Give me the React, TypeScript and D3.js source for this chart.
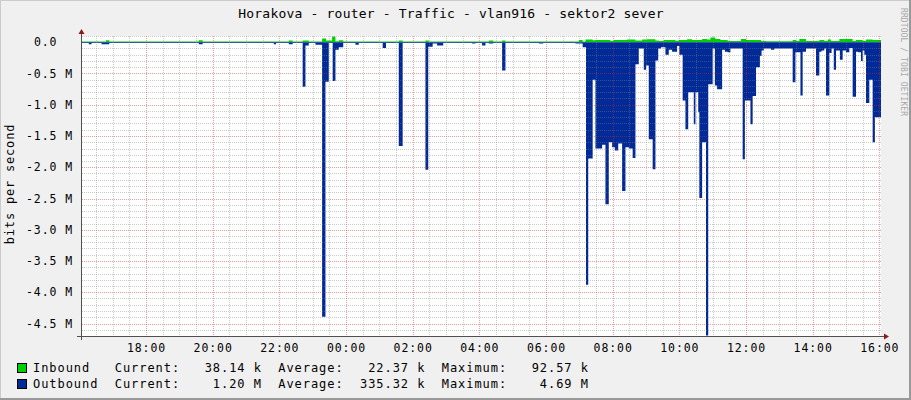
import React, { useEffect } from "react";
import * as d3 from "d3";

const TITLE = "Horakova - router - Traffic - vlan916 - sektor2 sever";
const Y_TITLE = "bits per second";
const WATERMARK = "RRDTOOL / TOBI OETIKER";

// time domain: one day starting at START_CLOCK
const START_CLOCK = "16:03";
const SPAN_MINUTES = 1440;

const xTickLabels = ["18:00", "20:00", "22:00", "00:00", "02:00", "04:00", "06:00", "08:00", "10:00", "12:00", "14:00", "16:00"];
const yTickValues = [0, -0.5, -1.0, -1.5, -2.0, -2.5, -3.0, -3.5, -4.0, -4.5];
const yTickLabels = ["0.0  ", "-0.5 M", "-1.0 M", "-1.5 M", "-2.0 M", "-2.5 M", "-3.0 M", "-3.5 M", "-4.0 M", "-4.5 M"];
const Y_MIN = -4.7;
const Y_MAX = 0.1;

// Inbound (kbit/s), step values starting at given clock time
const inboundTimes = [
  "16:03", "16:48", "16:54", "19:35", "19:42", "22:17", "22:24", "22:42", "22:53", "23:17",
  "23:24", "23:35", "23:41", "23:47", "23:55", "01:35", "01:42", "02:23", "02:29", "04:17",
  "04:25", "04:41", "04:47", "06:59", "07:06", "07:11", "07:24", "07:29", "07:56", "08:02",
  "08:26", "08:41", "08:53", "09:02", "09:17", "09:23", "09:32", "09:53", "09:59", "10:14",
  "10:23", "10:41", "10:50", "10:56", "11:05", "11:14", "11:27", "11:51", "12:00", "12:27",
  "12:36", "13:24", "13:30", "13:36", "13:48", "14:12", "14:21", "14:27", "14:33", "14:48",
  "15:12", "15:18", "15:30", "15:36", "15:48",
];
const inboundKbps = [
  14, 32, 14, 32, 14, 30, 14, 30, 14, 60,
  30, 92.57, 15, 32, 14, 30, 14, 30, 14, 30,
  14, 30, 14, 37, 14, 43, 32, 35, 22, 35,
  43, 28, 43, 48, 30, 22, 35, 25, 37, 48,
  37, 53, 43, 75, 53, 37, 22, 53, 37, 22,
  15, 37, 20, 53, 20, 37, 20, 43, 20, 53,
  20, 37, 20, 43, 38,
];

// Outbound (Mbit/s, drawn below zero)
const outboundTimes = [
  "16:03", "16:17", "16:22", "16:40", "16:54", "19:35", "19:42", "21:50", "21:54", "22:17",
  "22:24", "22:42", "22:47", "22:53", "23:05", "23:17", "23:23", "23:29", "23:36", "23:41",
  "23:47", "23:55", "00:17", "00:23", "01:06", "01:12", "01:35", "01:42", "02:23", "02:28",
  "02:36", "02:44", "02:55", "03:47", "03:53", "04:05", "04:11", "04:17", "04:25", "04:41",
  "04:47", "05:47", "05:55", "06:53", "07:06", "07:12", "07:16", "07:24", "07:29", "07:41",
  "07:47", "07:53", "07:59", "08:04", "08:10", "08:17", "08:23", "08:29", "08:36", "08:41",
  "08:47", "08:56", "09:00", "09:05", "09:12", "09:17", "09:22", "09:27", "09:35", "09:41",
  "09:47", "09:56", "10:00", "10:06", "10:11", "10:16", "10:26", "10:29", "10:34", "10:36",
  "10:41", "10:48", "10:52", "11:00", "11:04", "11:08", "11:17", "11:22", "11:27", "11:32",
  "11:54", "11:58", "12:08", "12:12", "12:18", "12:25", "12:28", "12:32", "12:45", "12:51",
  "13:24", "13:29", "13:38", "13:42", "13:48", "14:06", "14:12", "14:16", "14:21", "14:24",
  "14:30", "14:34", "14:38", "14:42", "14:49", "14:54", "15:00", "15:06", "15:12", "15:18",
  "15:22", "15:27", "15:30", "15:33", "15:36", "15:42", "15:48", "15:52",
];
const outboundMbps = [
  0.012, 0.03, 0.012, 0.03, 0.012, 0.03, 0.012, 0.03, 0.012, 0.03,
  0.012, 0.71, 0.05, 0.012, 0.04, 4.39, 0.63, 0.012, 0.62, 0.12,
  0.08, 0.012, 0.04, 0.012, 0.09, 0.012, 1.66, 0.012, 2.04, 0.07,
  0.02, 0.05, 0.012, 0.02, 0.012, 0.05, 0.012, 0.02, 0.012, 0.45,
  0.012, 0.02, 0.012, 0.02, 0.08, 3.88, 1.86, 0.6, 1.7, 1.64,
  2.59, 1.6, 1.68, 1.73, 1.62, 2.38, 1.68, 1.7, 1.85, 0.35,
  0.1, 0.44, 0.37, 1.55, 2.03, 0.29, 0.1, 0.08, 0.2, 0.12,
  0.15, 0.06, 0.2, 0.93, 1.39, 0.8, 1.31, 0.8, 1.12, 2.49,
  1.6, 4.69, 0.67, 0.1, 0.69, 0.75, 0.12, 0.15, 0.16, 0.1,
  1.87, 0.93, 1.31, 0.86, 0.4, 0.22, 0.13, 0.1, 0.12, 0.1,
  0.64, 0.16, 0.85, 0.15, 0.1, 0.53, 0.15, 0.13, 0.1, 0.85,
  0.17, 0.1, 0.44, 0.13, 0.28, 0.13, 0.16, 0.09, 0.87, 0.15,
  0.16, 0.3, 0.13, 0.2, 0.97, 0.6, 1.6, 1.2,
];

const legendNames = ["Inbound", "Outbound"];
const legendCurrent = ["38.14 k", "1.20 M"];
const legendAverage = ["22.37 k", "335.32 k"];
const legendMaximum = ["92.57 k", "4.69 M"];
const seriesColors = ["#00CF00", "#002A97"];

const FONT = "'DejaVu Sans Mono', monospace";

function clockToMin0(s: string): number {
  const [h, m] = s.split(":").map(Number);
  return h * 60 + m - 16 * 60;
}
function clockToMin(s: string): number {
  let v = clockToMin0(s);
  if (v < clockToMin0(START_CLOCK)) v += 1440;
  return v;
}

export default function App() {
  useEffect(() => {
    document.body.style.margin = "0";
  }, []);

  const W = 911;
  const H = 400;
  const left = 81;
  const right = 881;
  const top = 36;
  const bottom = 336;

  const t0 = clockToMin0(START_CLOCK);
  const t1 = t0 + SPAN_MINUTES;
  const x = d3.scaleLinear().domain([t0, t1]).range([left, right]);
  const y = d3.scaleLinear().domain([Y_MIN, Y_MAX]).range([bottom, top]);

  const inData = inboundTimes.map((t, i) => ({ t: clockToMin(t), v: inboundKbps[i] / 1000 }));
  inData.push({ t: t1, v: inData[inData.length - 1].v });
  const outData = outboundTimes.map((t, i) => ({ t: clockToMin(t), v: -outboundMbps[i] }));
  outData.push({ t: t1, v: outData[outData.length - 1].v });

  const area = d3
    .area<{ t: number; v: number }>()
    .x((d) => x(d.t))
    .y0(y(0))
    .y1((d) => y(d.v))
    .curve(d3.curveStepAfter);

  // vertical grid every 30 min, major every 2 h (even hours)
  const vGrid: { m: number; major: boolean }[] = [];
  for (let m = 30; m <= t1; m += 30) {
    if (m < t0) continue;
    vGrid.push({ m, major: m % 120 === 0 });
  }
  const majorTimes = vGrid.filter((g) => g.major).map((g) => g.m);

  // horizontal grid every 0.1 M, major every 0.5 M
  const hGrid: { v: number; major: boolean }[] = [];
  for (let k = Math.round(Y_MIN * 10); k <= Math.round(Y_MAX * 10); k++) {
    hGrid.push({ v: k / 10, major: k % 5 === 0 });
  }

  const minorColor = "rgba(130,130,130,0.42)";
  const majorColor = "rgba(220,40,40,0.45)";

  const legendRows = legendNames.map(
    (n, i) =>
      n.padEnd(10, " ") +
      "Current:" +
      legendCurrent[i].padStart(10, " ") +
      "  Average:" +
      legendAverage[i].padStart(10, " ") +
      "  Maximum:" +
      legendMaximum[i].padStart(10, " ")
  );

  const px = (v: number) => Math.round(v);

  return (
    <svg
      width={W}
      height={H}
      style={{ position: "absolute", left: 0, top: 0, display: "block" }}
      xmlns="http://www.w3.org/2000/svg"
    >
      <defs>
        <pattern id="vMinor" width={1} height={2} patternUnits="userSpaceOnUse">
          <rect x={0} y={0} width={1} height={1} fill={minorColor} />
        </pattern>
        <pattern id="vMajor" width={1} height={2} patternUnits="userSpaceOnUse">
          <rect x={0} y={0} width={1} height={1} fill={majorColor} />
        </pattern>
        <pattern id="hMinor" width={2} height={1} patternUnits="userSpaceOnUse">
          <rect x={0} y={0} width={1} height={1} fill={minorColor} />
        </pattern>
        <pattern id="hMajor" width={2} height={1} patternUnits="userSpaceOnUse">
          <rect x={0} y={0} width={1} height={1} fill={majorColor} />
        </pattern>
      </defs>

      <rect x={0} y={0} width={W} height={H} fill="#F0F0F0" />
      {/* 3D border */}
      <rect x={0} y={0} width={W} height={1} fill="#CBCBCB" />
      <rect x={0} y={0} width={1} height={H} fill="#CBCBCB" />
      <rect x={W - 2} y={0} width={2} height={H} fill="#999999" />
      <rect x={0} y={H - 2} width={W} height={2} fill="#999999" />

      {/* canvas */}
      <rect x={left} y={top} width={right - left} height={bottom - top} fill="#FFFFFF" />

      {/* data areas */}
      <path d={area(inData) || ""} fill={seriesColors[0]} />
      <path d={area(outData) || ""} fill={seriesColors[1]} />

      {/* grid (dotted, drawn over the data like rrdtool) */}
      <g shapeRendering="crispEdges">
        {hGrid.filter((g) => !g.major).map((g, i) => (
          <rect key={"hm" + i} x={left} y={px(y(g.v))} width={right - left} height={1} fill="url(#hMinor)" />
        ))}
        {vGrid.filter((g) => !g.major).map((g, i) => (
          <rect key={"vm" + i} x={px(x(g.m))} y={top} width={1} height={bottom - top} fill="url(#vMinor)" />
        ))}
        {hGrid.filter((g) => g.major && g.v !== 0).map((g, i) => (
          <rect key={"hM" + i} x={left} y={px(y(g.v))} width={right - left} height={1} fill="url(#hMajor)" />
        ))}
        {vGrid.filter((g) => g.major).map((g, i) => (
          <rect key={"vM" + i} x={px(x(g.m))} y={top} width={1} height={bottom - top} fill="url(#vMajor)" />
        ))}
      </g>

      {/* axes */}
      <g shapeRendering="crispEdges">
        <rect x={left - 4} y={bottom} width={right - left + 8} height={1} fill="#505050" />
        <rect x={left} y={top - 4} width={1} height={bottom - top + 8} fill="#505050" />
      </g>
      <polygon points={`${left + 0.5},${top - 7} ${left - 2.5},${top - 2} ${left + 3.5},${top - 2}`} fill="#8B1A1A" />
      <polygon points={`${right + 8},${bottom + 0.5} ${right + 3},${bottom - 2.5} ${right + 3},${bottom + 3.5}`} fill="#8B1A1A" />

      {/* title */}
      <text x={451} y={14} textAnchor="middle" dominantBaseline="middle" fontFamily={FONT} fontSize={13}
        letterSpacing={0.2} fill="#000">
        {TITLE}
      </text>

      {/* y axis labels */}
      {yTickValues.map((v, i) => (
        <text key={"yl" + i} x={73} y={y(v) + 0.5} textAnchor="end" dominantBaseline="middle" fontFamily={FONT}
          fontSize={11.5} letterSpacing={0.9} fill="#000" style={{ whiteSpace: "pre" }}>
          {yTickLabels[i]}
        </text>
      ))}

      {/* y axis title */}
      <text transform={`translate(10,${(top + bottom) / 2 - 2}) rotate(-90)`} textAnchor="middle"
        dominantBaseline="middle" fontFamily={FONT} fontSize={12} letterSpacing={0.8} fill="#000">
        {Y_TITLE}
      </text>

      {/* x axis labels */}
      {majorTimes.map((m, i) => (
        <text key={"xl" + i} x={x(m) + 0.5} y={348} textAnchor="middle" dominantBaseline="middle" fontFamily={FONT}
          fontSize={11.5} letterSpacing={0.9} fill="#000">
          {xTickLabels[i]}
        </text>
      ))}

      {/* watermark */}
      <text transform="translate(903,8) rotate(90)" textAnchor="start" dominantBaseline="middle" fontFamily={FONT}
        fontSize={8} letterSpacing={0.1} fill="#A8A8A8">
        {WATERMARK}
      </text>

      {/* legend */}
      {legendRows.map((row, i) => (
        <g key={"lg" + i}>
          <rect x={17.5} y={363.5 + i * 16} width={9} height={9} fill={seriesColors[i]} stroke="#000" />
          <text x={33} y={368 + i * 16} dominantBaseline="middle" fontFamily={FONT} fontSize={12}
            letterSpacing={0.95} fill="#000" style={{ whiteSpace: "pre" }}>
            {row}
          </text>
        </g>
      ))}
    </svg>
  );
}
